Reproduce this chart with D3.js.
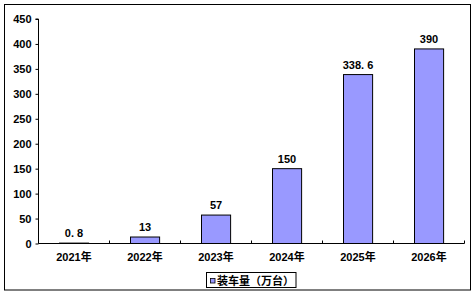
<!DOCTYPE html>
<html><head><meta charset="utf-8">
<script src="https://cdn.jsdelivr.net/npm/d3@7"></script>
<style>body{margin:0;background:#fff}svg{display:block}</style>
</head><body>
<svg id="c" width="475" height="294"></svg>
<script>
const categories = ["2021年","2022年","2023年","2024年","2025年","2026年"];
const values = [0.8, 13, 57, 150, 338.6, 390];
const valueLabels = ["0. 8","13","57","150","338. 6","390"];
const yTicks = [0,50,100,150,200,250,300,350,400,450];
const legendLabel = "装车量（万台）";

(function(){
const svg = d3.select("#c");
const font = "'Liberation Sans', Arial, 'Noto Sans CJK SC', sans-serif";
svg.append("rect").attr("x",4.5).attr("y",4.5).attr("width",466).attr("height",285.5)
  .attr("fill","#fff").attr("stroke","#000").attr("stroke-width",1);

const pL = 38.5, pR = 464.5, pT = 19, pB = 243.5;
const x = d3.scaleBand().domain(categories).range([pL,pR]).paddingInner(0.59).paddingOuter(0.295);
const y = d3.scaleLinear().domain([0,450]).range([pB, pT]);

// bars
svg.append("g").selectAll("rect").data(values).join("rect")
  .attr("x",(d,i)=>Math.round(x(categories[i]))+0.5)
  .attr("y",d=>y(d))
  .attr("width",x.bandwidth())
  .attr("height",d=>pB-y(d))
  .attr("fill","#9999FF").attr("stroke","#000").attr("stroke-width",1);

// y axis
const ya = d3.axisLeft(y).tickValues(yTicks).tickSize(3).tickPadding(4);
const gy = svg.append("g").attr("transform",`translate(${pL},0)`).call(ya);
gy.select(".domain").attr("d",`M-3,${pT}H0V${pB}`);
gy.selectAll("text").attr("font-family",font).attr("font-size",11).attr("font-weight","bold").attr("fill","#000");

// x axis
const bandStep = (pR-pL)/categories.length;
const xa = svg.append("g");
xa.append("line").attr("x1",pL).attr("x2",pR).attr("y1",pB).attr("y2",pB).attr("stroke","#000");
xa.selectAll("line.t").data(d3.range(categories.length+1)).join("line").attr("class","t")
  .attr("x1",i=>pL+i*bandStep).attr("x2",i=>pL+i*bandStep)
  .attr("y1",pB).attr("y2",pB-3).attr("stroke","#000");
xa.selectAll("text").data(categories).join("text")
  .attr("x",d=>x(d)+x.bandwidth()/2).attr("y",pB+17)
  .attr("text-anchor","middle").attr("font-family",font).attr("font-size",11).attr("font-weight","bold")
  .text(d=>d);

// value labels
svg.append("g").selectAll("text").data(values).join("text")
  .attr("x",(d,i)=>x(categories[i])+x.bandwidth()/2)
  .attr("y",d=>y(d)-6)
  .attr("text-anchor","middle").attr("font-family",font).attr("font-size",11).attr("font-weight","bold")
  .text((d,i)=>valueLabels[i]);

// legend
const lg = svg.append("g");
lg.append("rect").attr("x",206.5).attr("y",272.5).attr("width",89.5).attr("height",15)
  .attr("fill","#fff").attr("stroke","#000");
lg.append("rect").attr("x",210.5).attr("y",278.5).attr("width",4.5).attr("height",4.5)
  .attr("fill","#9999FF").attr("stroke","#000").attr("stroke-width",0.8);
lg.append("text").attr("x",217).attr("y",284.5).attr("font-family","'Noto Sans CJK SC', sans-serif")
  .attr("font-size",11).attr("font-weight","bold").text(legendLabel);
})();
</script>
</body></html>
